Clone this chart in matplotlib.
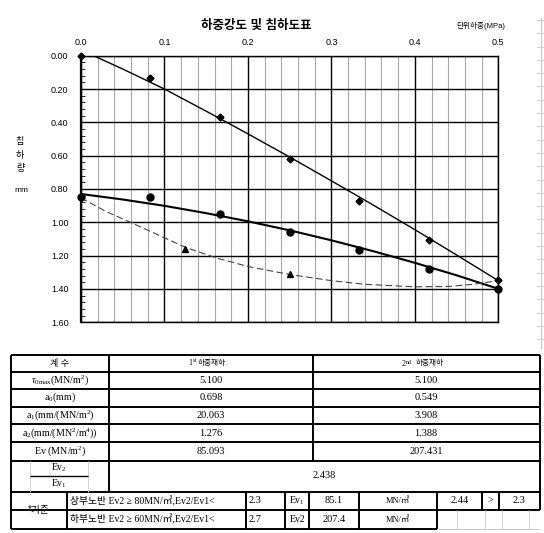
import numpy as np
import matplotlib.pyplot as plt
from matplotlib.ticker import MultipleLocator, FormatStrFormatter

plt.rcParams['font.family'] = ['Liberation Sans', 'Noto Sans CJK KR']
plt.rcParams['mathtext.fontset'] = 'custom'
plt.rcParams['mathtext.rm'] = 'Liberation Serif'
plt.rcParams['mathtext.it'] = 'Liberation Serif:italic'

SERIF = ['Liberation Serif', 'Noto Sans CJK KR']

# plate load test readings: load (MPa) vs settlement (mm)
load_1 = [0.0, 0.083, 0.167, 0.25, 0.333, 0.417, 0.5]
settle_1 = [0.0, 0.135, 0.365, 0.62, 0.874, 1.104, 1.347]

load_2 = [0.0, 0.083, 0.167, 0.25, 0.333, 0.417, 0.5]
settle_2 = [0.85, 0.85, 0.948, 1.06, 1.168, 1.279, 1.399]

load_3 = [0.125, 0.25]
settle_3 = [1.159, 1.313]

# fitted curves
fit1_x = [0.015, 0.05, 0.1, 0.15, 0.2, 0.25, 0.3, 0.35, 0.4, 0.45, 0.5]
fit1_y = [0.0, 0.08, 0.2, 0.333, 0.469, 0.608, 0.751, 0.896, 1.044, 1.196, 1.35]

fit2_x = [0.0, 0.05, 0.1, 0.15, 0.2, 0.25, 0.3, 0.35, 0.4, 0.45, 0.5]
fit2_y = [0.83, 0.863, 0.901, 0.945, 0.994, 1.048, 1.108, 1.173, 1.243, 1.318, 1.399]

fit3_x = [0.0, 0.03, 0.057, 0.09, 0.125, 0.163, 0.2, 0.25, 0.3, 0.34, 0.4, 0.44, 0.47, 0.5]
fit3_y = [0.854, 0.935, 0.995, 1.07, 1.15, 1.215, 1.265, 1.313, 1.35, 1.372, 1.387, 1.385, 1.372, 1.35]

# coefficient table
coef_labels = [r'$\tau_{\mathrm{0max}}$(MN/m$^2$)', r'a$_0$(mm)', r'a$_1$(mm/(MN/m$^2$)',
               r'a$_2$(mm/(MN$^2$/m$^4$))', r'Ev (MN/m$^2$)']
first_load = ['5.100', '0.698', '20.063', '1.276', '85.093']
second_load = ['5.100', '0.549', '3.908', '1.388', '207.431']
ev_ratio = '2.438'
crit_text = ['상부노반 Ev2 ≥ 80MN/㎡,Ev2/Ev1<', '하부노반 Ev2 ≥ 60MN/㎡,Ev2/Ev1<']
crit_limit = ['2.3', '2.7']
crit_name = [r'Ev$_1$', 'Ev2']
crit_value = ['85.1', '207.4']
check_row = ['2.44', '>', '2.3']

W, H = 544, 533
fig = plt.figure(figsize=(W / 100, H / 100), dpi=100)

# ---- chart ----
ax = fig.add_axes([81 / W, 1 - 322.3 / H, (498.3 - 81) / W, (322.3 - 55.7) / H])
ax.set_xlim(0, 0.5)
ax.set_ylim(1.6, 0)

ax.xaxis.set_major_locator(MultipleLocator(0.1))
ax.xaxis.set_minor_locator(MultipleLocator(0.02))
ax.yaxis.set_major_locator(MultipleLocator(0.2))
ax.yaxis.set_minor_locator(MultipleLocator(0.04))
ax.xaxis.set_major_formatter(FormatStrFormatter('%.1f'))
ax.yaxis.set_major_formatter(FormatStrFormatter('%.2f'))
ax.xaxis.tick_top()
ax.tick_params(axis='x', which='both', length=0, pad=6, labelsize=6.5)
ax.tick_params(axis='y', which='major', length=0, pad=9, labelsize=6.5)
ax.tick_params(axis='y', which='minor', direction='in', length=3, width=0.6)

ax.grid(axis='x', which='minor', color='#a8a8a8', linewidth=0.8)
ax.grid(axis='x', which='major', color='black', linewidth=1.0)
ax.grid(axis='y', which='major', color='black', linewidth=1.0)
ax.set_axisbelow(True)
for side, sp in ax.spines.items():
    sp.set_linewidth(1.0)
ax.spines['left'].set_linewidth(1.6)

ax.plot(fit1_x, fit1_y, color='black', linewidth=1.0, zorder=3)
ax.plot(fit2_x, fit2_y, color='black', linewidth=1.5, zorder=3)
ax.plot(fit3_x, fit3_y, color='#444444', linewidth=0.8, dashes=(6, 3), zorder=3)

ax.plot(load_1, settle_1, linestyle='none', marker='D', markersize=3.5, color='black', zorder=5, clip_on=False)
ax.plot(load_2, settle_2, linestyle='none', marker='o', markersize=5, color='black', zorder=5, clip_on=False)
ax.plot(load_3, settle_3, linestyle='none', marker='^', markersize=4.5, color='black', zorder=5, clip_on=False)

# ---- overlay in pixel coordinates for titles and the table ----
ov2 = fig.add_axes([0, 0, 1, 1], zorder=10)
ov2.set_xlim(0, W)
ov2.set_ylim(H, 0)
ov2.axis('off')
ov2.patch.set_alpha(0)

ov2.text(256, 26, '하중강도 및 침하도표', ha='center', va='center', fontsize=9, fontweight='bold')
ov2.text(481, 26, '단위하중(MPa)', ha='center', va='center', fontsize=5.5)
ov2.text(20, 155, '침\n하\n량', ha='center', va='center', fontsize=6.5, linespacing=1.6)
ov2.text(21, 191, 'mm', ha='center', va='center', fontsize=6)

# spreadsheet grid remnants on the right edge
ov2.plot([541, 541], [18, 348], color='#c8c8c8', linewidth=0.8)
for yy in np.arange(20, 345, 13.3):
    ov2.plot([537, 544], [yy, yy], color='#c8c8c8', linewidth=0.6)

lw_b = 1.4
def hline(y, x0, x1, c='black', lw=lw_b):
    ov2.plot([x0, x1], [y, y], color=c, linewidth=lw, solid_capstyle='butt')

def vline(x, y0, y1, c='black', lw=lw_b):
    ov2.plot([x, x], [y0, y1], color=c, linewidth=lw, solid_capstyle='butt')

L, R = 11, 539.5
rows = [355, 371.5, 389, 406.5, 424, 442, 460.5, 491.5]
for y in rows:
    hline(y, L, R)
vline(L, 355, 529)
vline(R, 355, 510)
vline(109, 355, 491.5)
vline(313, 355, 460.5)

# criteria block
hline(510, L, R)
hline(529, L, 437)
hline(529, 437, R, c='#c8c8c8', lw=0.7)
for x in [66.7, 246, 285.3, 308.7, 359.3, 437]:
    vline(x, 491.5, 529)
for x in [482, 498.7]:
    vline(x, 491.5, 510)
for x in [457, 485, 502, 528.7]:
    vline(x, 510, 529, c='#d0d0d0', lw=0.7)

# fraction cell
vline(30, 460.5, 491.5, c='#d0d0d0', lw=0.7)
vline(88, 460.5, 491.5, c='#d0d0d0', lw=0.7)
hline(475.5, 30, 88, lw=1.0)

fs = 7.5
ov2.text(60, 363.3, '계 수', ha='center', va='center', fontsize=6.5)
# headers: ordinal with superscript, then the Korean words
ov2.text(198, 363.3, r'1$^{\mathrm{st}}$', ha='right', va='center', fontsize=5.8, family=SERIF)
ov2.text(198, 363.3, '하중재하', ha='left', va='center', fontsize=5.5)
ov2.text(413, 363.3, r'2$^{\mathrm{nd}}$', ha='right', va='center', fontsize=5.8, family=SERIF)
ov2.text(416, 363.3, '하중재하', ha='left', va='center', fontsize=5.5)

for i, lab in enumerate(coef_labels):
    yc = (rows[i + 1] + rows[i + 2]) / 2
    ov2.text(60, yc, lab, ha='center', va='center', fontsize=7.2, family=SERIF)
    ov2.text(211, yc, first_load[i], ha='center', va='center', fontsize=fs, family=SERIF)
    ov2.text(426, yc, second_load[i], ha='center', va='center', fontsize=fs, family=SERIF)

ov2.text(59, 468, r'Ev$_2$', ha='center', va='center', fontsize=7, family=SERIF)
ov2.text(59, 484, r'Ev$_1$', ha='center', va='center', fontsize=7, family=SERIF)
ov2.text(324, 476, ev_ratio, ha='center', va='center', fontsize=fs, family=SERIF)

ov2.text(39, 510, '*기준', ha='center', va='center', fontsize=7)
for i, yc in enumerate([500.8, 519.5]):
    ov2.text(70, yc, crit_text[i], ha='left', va='center', fontsize=7, family=SERIF)
    ov2.text(249, yc, crit_limit[i], ha='left', va='center', fontsize=fs, family=SERIF)
    ov2.text(297, yc, crit_name[i], ha='center', va='center', fontsize=7, family=SERIF)
    ov2.text(334, yc, crit_value[i], ha='center', va='center', fontsize=fs, family=SERIF)
    ov2.text(398, yc, 'MN/㎡', ha='center', va='center', fontsize=6, family=SERIF)
for x, t in zip([459.5, 490.3, 519], check_row):
    ov2.text(x, 500.8, t, ha='center', va='center', fontsize=fs, family=SERIF)

fig.savefig('out.png', dpi=100)
